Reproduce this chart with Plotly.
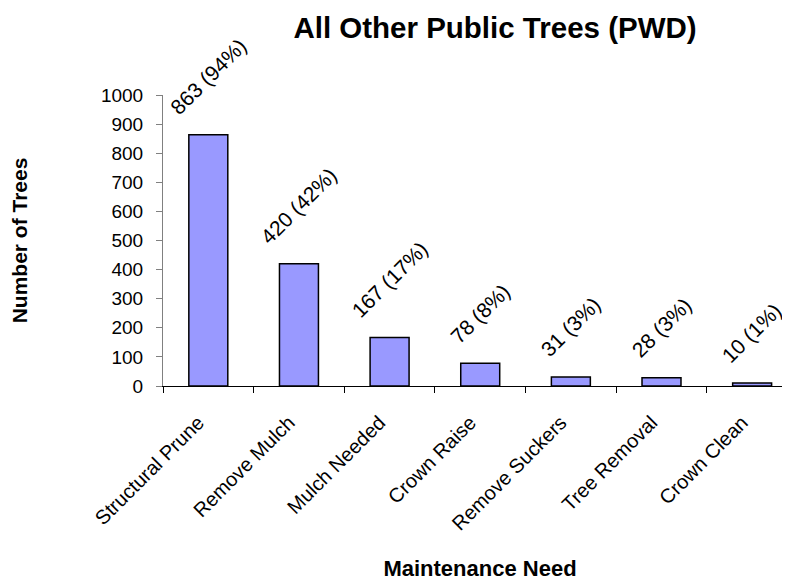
import plotly.graph_objects as go

categories = ["Structural Prune", "Remove Mulch", "Mulch Needed", "Crown Raise",
              "Remove Suckers", "Tree Removal", "Crown Clean"]
counts = [863, 420, 167, 78, 31, 28, 10]
percents = [94, 42, 17, 8, 3, 3, 1]
labels = [f"{c} ({p}%)" for c, p in zip(counts, percents)]

FONT = "Liberation Sans, Arial, sans-serif"

fig = go.Figure()
fig.add_trace(go.Bar(
    x=categories, y=counts,
    marker=dict(color="#9999FF", line=dict(color="#000000", width=1.5)),
    width=0.43,
    hoverinfo="x+y",
))

for cat, val, lab in zip(categories, counts, labels):
    fig.add_annotation(
        x=cat, y=val, text=lab, showarrow=False, textangle=-45,
        xanchor="center", yanchor="bottom", yshift=13,
        font=dict(family=FONT, size=21, color="#000000"),
    )

fig.update_layout(
    width=790, height=580,
    margin=dict(l=154.5, r=1, t=87, b=202),
    paper_bgcolor="white", plot_bgcolor="white",
    showlegend=False,
    title=dict(text="<b>All Other Public Trees (PWD)</b>",
               xref="container", x=487/790, xanchor="center",
               yref="container", y=1-20/580, yanchor="middle",
               font=dict(family=FONT, size=29.5, color="#000000")),
    font=dict(family=FONT, color="#000000"),
    xaxis=dict(
        type="category", range=[-0.5, 6.495],
        showline=True, linecolor="#000000", linewidth=1,
        ticks="outside", tickson="boundaries", ticklen=6, tickcolor="#000000",
        tickangle=-45, tickfont=dict(family=FONT, size=20, color="#000000"),
        ticklabelstandoff=16, ticklabelshift=-10,
        showgrid=False, zeroline=False,
        title=dict(text="<b>Maintenance Need</b>", standoff=27,
                   font=dict(family=FONT, size=22, color="#000000")),
        automargin=False,
    ),
    yaxis=dict(
        range=[0, 1000], dtick=100, tick0=0,
        showline=True, linecolor="#808080", linewidth=1,
        ticks="outside", ticklen=6, tickcolor="#808080",
        tickfont=dict(family=FONT, size=19, color="#000000"),
        ticklabelstandoff=9,
        showgrid=False, zeroline=False,
        title=dict(text="<b>Number of Trees</b>", standoff=68,
                   font=dict(family=FONT, size=21, color="#000000")),
        automargin=False,
    ),
)

fig.write_html("out.html")
